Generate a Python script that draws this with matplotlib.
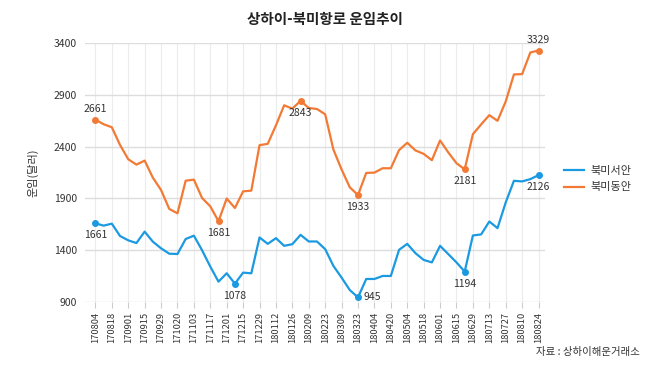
import numpy as np
import matplotlib
matplotlib.use("Agg")
import matplotlib.pyplot as plt

plt.rcParams['font.family'] = ['Noto Sans CJK KR', 'DejaVu Sans']

# 주간 운임 (달러/FEU), 170804 ~ 180824
west_coast = [1661, 1638, 1657, 1538, 1496, 1470, 1580, 1483, 1419, 1367, 1364,
              1509, 1541, 1400, 1242, 1097, 1178, 1078, 1184, 1178, 1524, 1462,
              1517, 1443, 1459, 1549, 1485, 1485, 1411, 1249, 1136, 1016, 945,
              1123, 1123, 1152, 1152, 1404, 1462, 1372, 1307, 1283, 1443, 1363,
              1283, 1194, 1543, 1553, 1678, 1614, 1862, 2071, 2065, 2087, 2126]
east_coast = [2661, 2617, 2588, 2417, 2279, 2227, 2266, 2101, 1982, 1799, 1757,
              2072, 2082, 1905, 1824, 1681, 1900, 1808, 1969, 1976, 2415, 2428,
              2606, 2800, 2768, 2843, 2774, 2764, 2713, 2373, 2180, 2008, 1933,
              2147, 2150, 2192, 2192, 2367, 2438, 2364, 2331, 2270, 2460, 2345,
              2241, 2181, 2521, 2615, 2705, 2650, 2837, 3098, 3101, 3310, 3329]
tick_labels = ["170804", "170818", "170901", "170915", "170929", "171020", "171103",
               "171117", "171201", "171215", "171229", "180112", "180126", "180209",
               "180223", "180309", "180323", "180404", "180420", "180504", "180518",
               "180601", "180615", "180629", "180713", "180727", "180810", "180824"]
series_names = ["북미서안", "북미동안"]

# 값 표시할 지점 (인덱스)
west_marks = [0, 17, 32, 45, 54]
east_marks = [0, 15, 25, 32, 45, 54]

BLUE = "#1b9ae2"
ORANGE = "#f27a35"
TXT = "#333333"

fig = plt.figure(figsize=(6.5, 3.72), dpi=100)
ax = fig.add_axes([0.131, 0.188, 0.707, 0.696])

x = np.arange(len(west_coast))
ax.plot(x, west_coast, color=BLUE, lw=1.6, label=series_names[0])
ax.plot(x, east_coast, color=ORANGE, lw=1.6, label=series_names[1])

# 마커 + 값 라벨
for i in west_marks:
    ax.plot(x[i], west_coast[i], 'o', color=BLUE, ms=4)
    if i == 32:
        ax.annotate(str(west_coast[i]), (x[i], west_coast[i]), xytext=(4, 0),
                    textcoords='offset points', ha='left', va='center', fontsize=7.5, color=TXT)
    else:
        ax.annotate(str(west_coast[i]), (x[i], west_coast[i]), xytext=(0, -5),
                    textcoords='offset points', ha='center', va='top', fontsize=7.5, color=TXT)
for i in east_marks:
    ax.plot(x[i], east_coast[i], 'o', color=ORANGE, ms=4)
    if i in (0, 54):
        ax.annotate(str(east_coast[i]), (x[i], east_coast[i]), xytext=(0, 4),
                    textcoords='offset points', ha='center', va='bottom', fontsize=7.5, color=TXT)
    else:
        ax.annotate(str(east_coast[i]), (x[i], east_coast[i]), xytext=(0, -5),
                    textcoords='offset points', ha='center', va='top', fontsize=7.5, color=TXT)

ax.set_xlim(-1.25, 54.75)
ax.set_ylim(900, 3400)
ax.set_yticks(np.arange(900, 3401, 500))
ax.set_xticks(x[::2])
ax.set_xticklabels(tick_labels, rotation=90, fontsize=6.7, color=TXT)
ax.tick_params(axis='y', length=0, labelsize=7.5, labelcolor=TXT, pad=6)
ax.tick_params(axis='x', length=4, color='#cccccc', pad=3)
ax.grid(axis='y', color='#dddddd', lw=1)
ax.grid(axis='x', color='#ececec', lw=0.8)
ax.set_axisbelow(True)
for s in ax.spines.values():
    s.set_visible(False)

ax.set_ylabel("운임(달러)", fontsize=8, color=TXT, labelpad=11)

fig.text(0.5, 0.95, "상하이-북미항로 운임추이", ha='center', va='center',
         fontsize=10.5, fontweight='bold', color='#222222')

leg = ax.legend(loc='center left', bbox_to_anchor=(1.02, 0.475), frameon=False,
                fontsize=8, handlelength=1.8, labelspacing=0.6, handletextpad=0.6)
for t in leg.get_texts():
    t.set_color(TXT)

fig.text(0.985, 0.055, "자료 : 상하이해운거래소", ha='right', va='center',
         fontsize=7.5, color=TXT)

fig.savefig("out.png", dpi=100)
